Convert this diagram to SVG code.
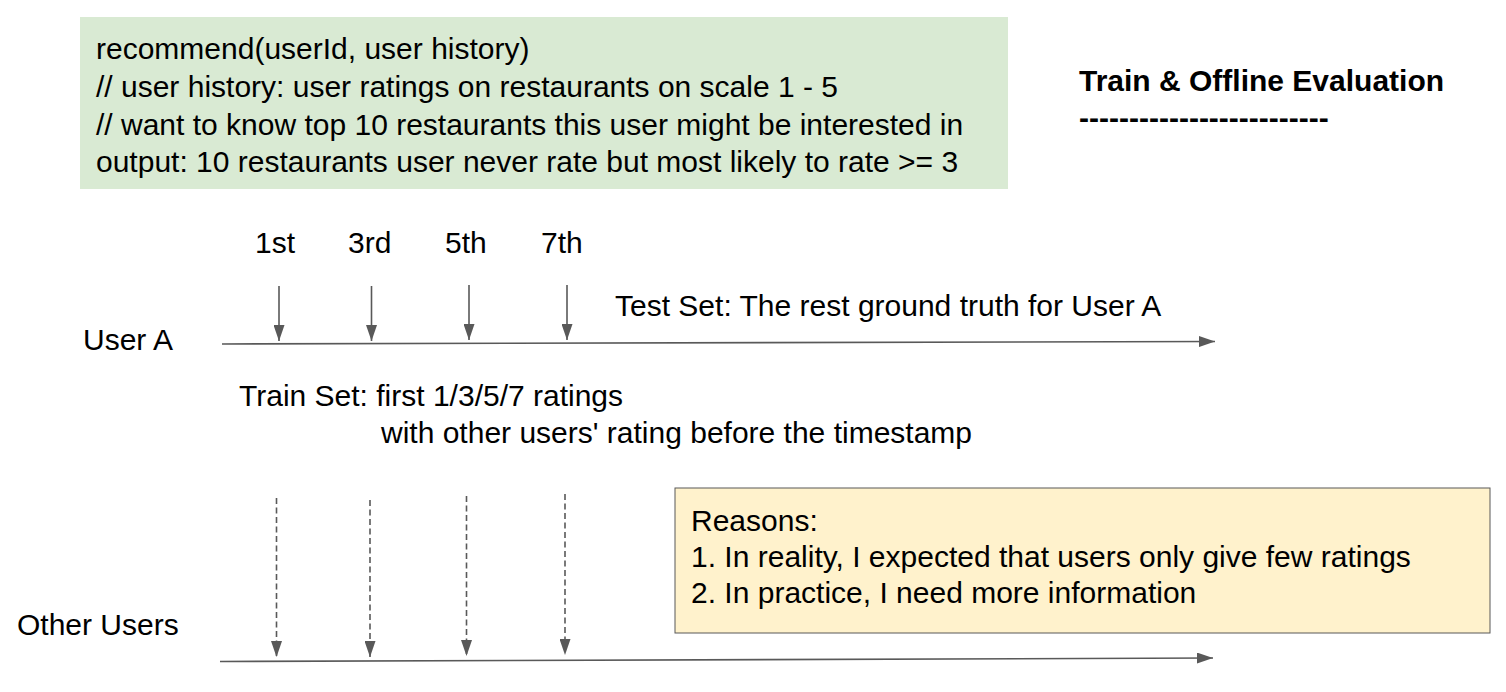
<svg xmlns="http://www.w3.org/2000/svg" width="1506" height="692" viewBox="0 0 1506 692">
<defs>
<marker id="ah" viewBox="0 0 16 11" refX="16" refY="5.5" markerWidth="16" markerHeight="11" markerUnits="userSpaceOnUse" orient="auto">
<path d="M0,0 L16,5.5 L0,11 Z" fill="#595959"/>
</marker>
<style>
text{font-family:"Liberation Sans",Arial,sans-serif;font-size:30px;fill:#000}
.b{font-weight:bold}
.ar{stroke:#595959;stroke-width:1.6;fill:none;marker-end:url(#ah)}
.da{stroke-dasharray:6,3.5}
</style>
</defs>
<rect width="1506" height="692" fill="#fff"/>
<g id="problem">
<rect x="80" y="17" width="928" height="172" fill="#d9ead3"/>
<text x="96" y="59">recommend(userId, user history)</text>
<text x="96" y="97">// user history: user ratings on restaurants on scale 1 - 5</text>
<text x="96" y="135">// want to know top 10 restaurants this user might be interested in</text>
<text x="96" y="172">output: 10 restaurants user never rate but most likely to rate &gt;= 3</text>
</g>
<g id="title">
<text class="b" x="1079" y="91">Train &amp; Offline Evaluation</text>
<text class="b" x="1079" y="128">-------------------------</text>
</g>
<g id="labels">
<text x="255" y="253">1st</text>
<text x="348" y="253">3rd</text>
<text x="445" y="253">5th</text>
<text x="541" y="253">7th</text>
<text x="83" y="350">User A</text>
<text x="615" y="316">Test Set: The rest ground truth for User A</text>
<text x="239" y="406">Train Set: first 1/3/5/7 ratings</text>
<text x="381" y="443">with other users' rating before the timestamp</text>
<text x="17" y="635">Other Users</text>
</g>
<g id="reasons">
<rect x="675" y="488" width="815" height="145" fill="#fff2cc" stroke="#595959" stroke-width="1"/>
<text x="691" y="531">Reasons:</text>
<text x="691" y="567">1. In reality, I expected that users only give few ratings</text>
<text x="691" y="603">2. In practice, I need more information</text>
</g>
<g id="connectors">
<line class="ar" x1="222" y1="344" x2="1215" y2="341.5"/>
<line class="ar" x1="220" y1="661.5" x2="1213" y2="658"/>
<line class="ar" x1="279" y1="286" x2="279" y2="341"/>
<line class="ar" x1="371.5" y1="286" x2="371.5" y2="341"/>
<line class="ar" x1="469" y1="285" x2="469" y2="340"/>
<line class="ar" x1="567" y1="285" x2="567" y2="340"/>
<line class="ar da" x1="276.5" y1="498" x2="276.5" y2="657"/>
<line class="ar da" x1="370" y1="500" x2="370" y2="657"/>
<line class="ar da" x1="466.5" y1="496" x2="466.5" y2="656"/>
<line class="ar da" x1="565" y1="494" x2="565" y2="655"/>
</g>
</svg>
